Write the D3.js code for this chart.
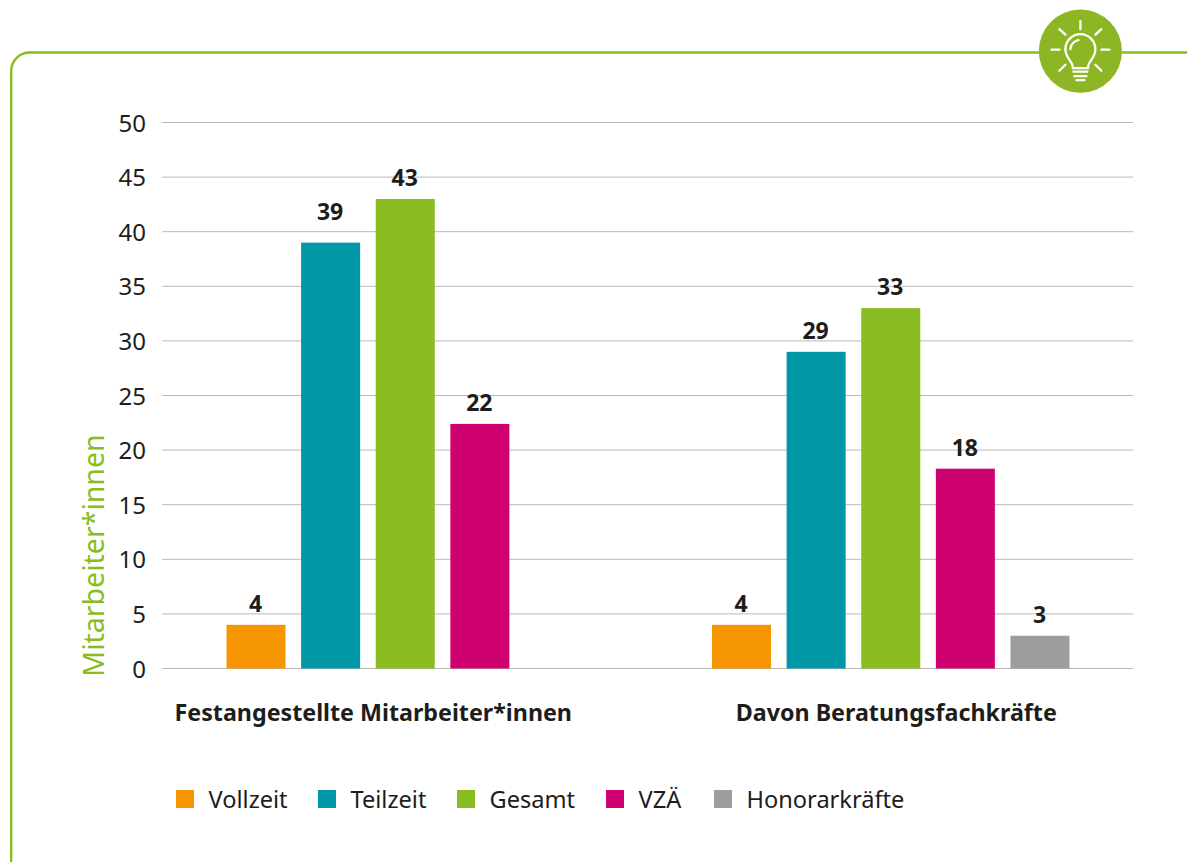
<!DOCTYPE html>
<html><head><meta charset="utf-8">
<script src="https://cdn.jsdelivr.net/npm/d3@7"></script>
<style>
html,body{margin:0;padding:0;background:#fff}
svg{display:block}
text{font-family:"Noto Sans",sans-serif;fill:#1d1d1b}
</style></head><body>
<svg id="c" width="1187" height="864"></svg>
<script>
const groups = ["Festangestellte Mitarbeiter*innen", "Davon Beratungsfachkräfte"];
const seriesNames = ["Vollzeit", "Teilzeit", "Gesamt", "VZÄ", "Honorarkräfte"];
const seriesColors = ["#f59500", "#0097a7", "#89bc21", "#cf0070", "#9d9d9c"];
const vollzeit = [4, 4];
const teilzeit = [39, 29];
const gesamt = [43, 33];
const vza = [22.4, 18.3];
const honorar = [null, 3];
const vzaLabels = ["22", "18"];
const yTicks = [0,5,10,15,20,25,30,35,40,45,50];
const seriesValues = [vollzeit, teilzeit, gesamt, vza, honorar];

const svg = d3.select("#c");
const GREEN = "#89bc21";

// frame
const path = d3.path();
path.moveTo(1187, 52.5);
path.lineTo(1122, 52.5);
path.moveTo(1040, 52.5);
path.lineTo(30, 52.5);
path.arcTo(11.2, 52.5, 11.2, 71, 18.5);
path.lineTo(11.2, 862);
svg.append("path").attr("d", path.toString()).attr("fill","none").attr("stroke",GREEN).attr("stroke-width",2.4);

// scales
const y = d3.scaleLinear().domain([0,50]).range([668.5,122.5]);
const x0 = d3.scaleBand().domain(groups).range([162,1133]);
const x1 = d3.scaleBand().domain(seriesNames).range([64.5,422]).paddingInner(0.209);

// grid + axis
const axis = d3.axisLeft(y).tickValues(yTicks).tickSize(0).tickPadding(16);
const ga = svg.append("g").attr("transform","translate(162,0)").call(axis);
ga.select(".domain").remove();
ga.selectAll("text").style("font-size","24px").style("font-family",'"Noto Sans",sans-serif').attr("fill","#1d1d1b").attr("dy","0.36em");
svg.append("g").selectAll("line").data(yTicks).join("line")
  .attr("x1",162).attr("x2",1133)
  .attr("y1",d=>y(d)).attr("y2",d=>y(d))
  .attr("stroke","#b9b9b9").attr("stroke-width",1);

// bars
const bars = [];
groups.forEach((g,i)=>seriesNames.forEach((s,j)=>{
  const v = seriesValues[j][i];
  if(v!==null) bars.push({g,s,v,color:seriesColors[j],label:s==="VZÄ"?vzaLabels[i]:String(v)});
}));
svg.append("g").selectAll("rect").data(bars).join("rect")
  .attr("x",d=>x0(d.g)+x1(d.s)).attr("width",x1.bandwidth())
  .attr("y",d=>y(d.v)).attr("height",d=>y(0)-y(d.v)).attr("fill",d=>d.color);
svg.append("g").selectAll("text").data(bars).join("text")
  .attr("x",d=>x0(d.g)+x1(d.s)+x1.bandwidth()/2-0.5)
  .attr("y",d=>y(d.v)-13-(d.v===39?10:0))
  .attr("text-anchor","middle").attr("font-size",23).attr("font-weight",700)
  .text(d=>d.label);

// category labels
const labelShift = [-31.5, 6];
svg.append("g").selectAll("text").data(groups).join("text")
  .attr("x",(d,i)=>x0(d)+x0.bandwidth()/2+labelShift[i]).attr("y",721)
  .attr("text-anchor","middle").attr("font-size",23.25).attr("font-weight",700)
  .text(d=>d);

// y title
svg.append("text").attr("transform","translate(103.5,555.5) rotate(-90)")
  .attr("text-anchor","middle").attr("font-size",28.5).style("fill",GREEN)
  .text("Mitarbeiter*innen");

// legend
const legendX = [176,318,457,606,714];
const lg = svg.append("g").selectAll("g").data(seriesNames).join("g")
  .attr("transform",(d,i)=>`translate(${legendX[i]},790)`);
lg.append("rect").attr("width",18).attr("height",18).attr("fill",(d,i)=>seriesColors[i]);
lg.append("text").attr("x",32.5).attr("y",18).attr("font-size",23.6).text(d=>d);

// icon
const ic = svg.append("g").attr("transform","translate(1080.4,51.2)");
ic.append("circle").attr("r",41.6).attr("fill","#8cb624");
const W = {fill:"none",stroke:"#fff","stroke-width":2.3,"stroke-linecap":"round"};
const st = (s)=>{Object.entries(W).forEach(([k,v])=>s.attr(k,v));return s;};
[[0,-30,0,-22],[-21,-22,-15,-16.5],[21,-22,15,-16.5],[-29,-1.5,-21,-1.5],[21,-1.5,29,-1.5],[-21,19.5,-15,13.5],[21,19.5,15,13.5]].forEach(l=>{
  st(ic.append("line").attr("x1",l[0]).attr("y1",l[1]).attr("x2",l[2]).attr("y2",l[3]));
});
st(ic.append("path").attr("d","M-7.5,17 C-7.5,10 -15,7 -15,-2 A15,15 0 1 1 15,-2 C15,7 7.5,10 7.5,17 Z"));
st(ic.append("path").attr("d","M-10,-2 A10,10 0 0 1 -2,-11"));
[[-7,7,20.5],[-6,6,25],[-4,4,29]].forEach(l=>{
  st(ic.append("line").attr("x1",l[0]).attr("x2",l[1]).attr("y1",l[2]).attr("y2",l[2]));
});
</script>
</body></html>
